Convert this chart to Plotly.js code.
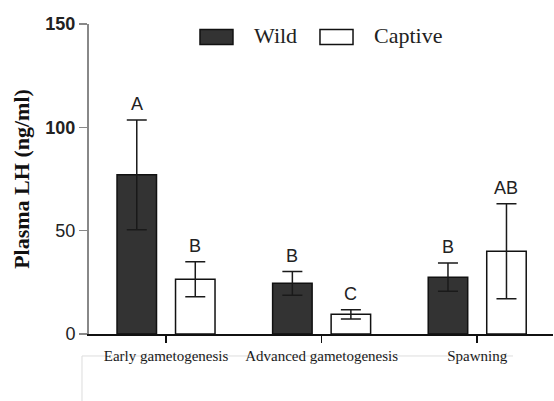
<!DOCTYPE html>
<html>
<head>
<meta charset="utf-8">
<script src="https://cdn.plot.ly/plotly-3.0.1.min.js"></script>
<style>
  html, body { margin: 0; padding: 0; background: #ffffff; }
  #chart { width: 554px; height: 401px; }
</style>
</head>
<body>
<div id="chart"></div>
<script>
// Plasma LH by reproductive stage, wild vs captive fish (mean ± SD)
var stages = ['Early gametogenesis', 'Advanced gametogenesis', 'Spawning'];
var seriesNames = ['Wild', 'Captive'];

var wildMean = [77, 24.5, 27.5];
var wildSD = [26.5, 5.7, 6.8];
var captiveMean = [26.5, 9.5, 40];
var captiveSD = [8.5, 2.2, 23];

// significance letters above each bar
var wildLetters = ['A', 'B', 'B'];
var captiveLetters = ['B', 'C', 'AB'];

var yTickVals = [0, 50, 100, 150];
var yTickText = ['0', '50', '<b>100</b>', '<b>150</b>'];

var BARGAP = 0.248;
var SERIF = 'Liberation Serif, Times New Roman, serif';
var SANS = 'Liberation Sans, Arial, sans-serif';

var errStyle = { type: 'data', visible: true, color: '#1a1a1a', thickness: 1.5, width: 10 };

var traces = [
  {
    type: 'bar', name: seriesNames[0], x: stages, y: wildMean,
    marker: { color: '#333333', line: { color: '#111111', width: 1.5 } },
    error_y: Object.assign({ array: wildSD }, errStyle),
    showlegend: false, hoverinfo: 'y'
  },
  {
    type: 'bar', name: seriesNames[1], x: stages, y: captiveMean,
    marker: { color: '#ffffff', line: { color: '#111111', width: 1.5 } },
    error_y: Object.assign({ array: captiveSD }, errStyle),
    showlegend: false, hoverinfo: 'y'
  }
];

// letters sit above the error-bar caps; x offset is a quarter of the group width
var half = (1 - BARGAP) / 4;
var annotations = [];
stages.forEach(function (s, i) {
  annotations.push({
    xref: 'x', yref: 'y', x: i - half, y: wildMean[i] + wildSD[i],
    text: wildLetters[i], showarrow: false, yanchor: 'bottom', yshift: 4,
    font: { family: SANS, size: 18, color: '#222222' }
  });
  annotations.push({
    xref: 'x', yref: 'y', x: i + half, y: captiveMean[i] + captiveSD[i],
    text: captiveLetters[i], showarrow: false, yanchor: 'bottom', yshift: 4,
    font: { family: SANS, size: 18, color: '#222222' }
  });
});

// legend entries drawn as swatch + label
annotations.push({
  xref: 'paper', yref: 'paper', x: 0.351, y: 0.962, xanchor: 'left', yanchor: 'middle',
  text: seriesNames[0], showarrow: false,
  font: { family: SERIF, size: 22, color: '#222222' }
});
annotations.push({
  xref: 'paper', yref: 'paper', x: 0.610, y: 0.962, xanchor: 'left', yanchor: 'middle',
  text: seriesNames[1], showarrow: false,
  font: { family: SERIF, size: 22, color: '#222222' }
});

var shapes = [
  { type: 'rect', xref: 'paper', yref: 'paper', x0: 0.2392, x1: 0.3103, y0: 0.9340, y1: 0.9823,
    fillcolor: '#333333', line: { color: '#111111', width: 1.5 } },
  { type: 'rect', xref: 'paper', yref: 'paper', x0: 0.4978, x1: 0.5690, y0: 0.9340, y1: 0.9823,
    fillcolor: '#ffffff', line: { color: '#111111', width: 1.5 } },
  // faint frame below the category labels
  { type: 'line', xref: 'paper', yref: 'paper', x0: -0.0151, x1: 0.9138, y0: -0.0709, y1: -0.0709,
    line: { color: '#dddddd', width: 1 }, layer: 'below' },
  { type: 'line', xref: 'paper', yref: 'paper', x0: -0.0151, x1: -0.0151, y0: -0.0709, y1: -0.25,
    line: { color: '#dddddd', width: 1 }, layer: 'below' }
];

var layout = {
  width: 554, height: 401,
  margin: { l: 89, r: 1, t: 24, b: 67, pad: 0 },
  paper_bgcolor: '#ffffff', plot_bgcolor: '#ffffff',
  barmode: 'group', bargap: BARGAP, bargroupgap: 0.325,
  showlegend: false,
  xaxis: {
    type: 'category', range: [-0.495, 2.487],
    showline: true, linecolor: '#111111', linewidth: 2,
    ticks: 'outside', ticklen: 7, tickwidth: 1.5, tickcolor: '#111111',
    showgrid: false, zeroline: false,
    tickfont: { family: SERIF, size: 15, color: '#1a1a1a' },
    fixedrange: true
  },
  yaxis: {
    range: [0, 150], tickvals: yTickVals, ticktext: yTickText,
    showline: true, linecolor: '#888888', linewidth: 2,
    ticks: 'outside', ticklen: 8, tickwidth: 1.5, tickcolor: '#888888',
    showgrid: false, zeroline: false,
    tickfont: { family: SANS, size: 18, color: '#222222' },
    title: { text: '<b>Plasma LH (ng/ml)</b>', standoff: 10,
             font: { family: SERIF, size: 22, color: '#111111' } },
    fixedrange: true
  },
  annotations: annotations,
  shapes: shapes
};

Plotly.newPlot('chart', traces, layout, { displayModeBar: false, staticPlot: true });
</script>
</body>
</html>
